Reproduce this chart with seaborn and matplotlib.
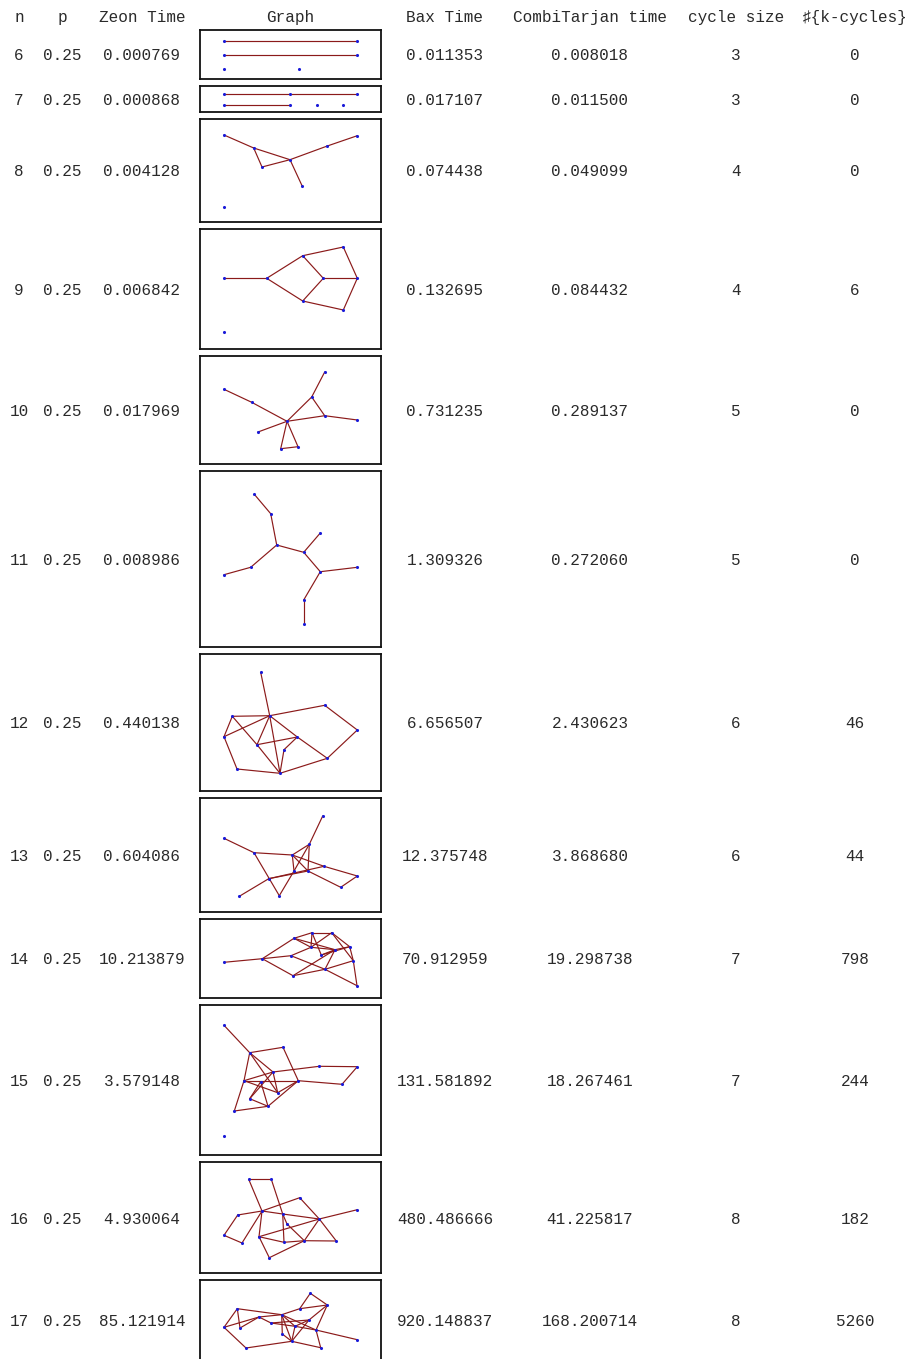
import pandas as pd
import matplotlib
matplotlib.use("Agg")
import matplotlib.pyplot as plt
import seaborn as sns

# table values
n_vals = [6, 7, 8, 9, 10, 11, 12, 13, 14, 15, 16, 17]
p_vals = ["0.25"] * 12
zeon_time = ["0.000769", "0.000868", "0.004128", "0.006842", "0.017969", "0.008986",
             "0.440138", "0.604086", "10.213879", "3.579148", "4.930064", "85.121914"]
bax_time = ["0.011353", "0.017107", "0.074438", "0.132695", "0.731235", "1.309326",
            "6.656507", "12.375748", "70.912959", "131.581892", "480.486666", "920.148837"]
combi_time = ["0.008018", "0.011500", "0.049099", "0.084432", "0.289137", "0.272060",
              "2.430623", "3.868680", "19.298738", "18.267461", "41.225817", "168.200714"]
cycle_size = [3, 3, 4, 4, 5, 5, 6, 6, 7, 7, 8, 8]
k_cycles = [0, 0, 0, 6, 0, 0, 46, 44, 798, 244, 182, 5260]
headers = ["n", "p", "Zeon Time", "Graph", "Bax Time", "CombiTarjan time",
           "cycle size", "\u266f{k-cycles}"]

# graph drawings: node layout (inside each frame) and edges by node letter
nodes_6 = [(24, 11), (157, 11), (24, 25), (157, 25), (24, 39), (99, 39)]
edges_6 = "AB CD"
nodes_7 = [(24, 8), (90, 8), (157, 8), (24, 19), (90, 19), (117, 19), (143, 19)]
edges_7 = "AB BC DE"
nodes_8 = [(24, 16), (53.7, 29), (62, 48), (90, 40.7), (102.3, 67.3), (127.3, 27),
           (157.3, 16.7), (24, 88)]
edges_8 = "AB BC BD CD DE DF FG"
nodes_9 = [(24, 49.3), (66.7, 49.3), (102.7, 26.7), (102.7, 72), (123.3, 49.3),
           (143.3, 18), (157.3, 49.3), (143.3, 81), (24, 103.3)]
edges_9 = "AB BC BD CE DE CF FG EG GH DH"
nodes_10 = [(24, 33.3), (51.7, 46.3), (87, 65.3), (124.7, 16), (111.7, 41),
            (124.7, 59.7), (157.3, 64), (58, 76), (80.7, 92.7), (98, 90.7)]
edges_10 = "AB BC CE ED EF CF FG CH CI CJ IJ"
nodes_11 = [(54.3, 23.3), (70.7, 42.7), (76.7, 74), (50.7, 96.3), (24, 103.7),
            (103.7, 81.3), (120.3, 62), (120.3, 100.7), (157.3, 96.3), (103.7, 129),
            (103.7, 153.3)]
edges_11 = "AB BC CD DE CF FG FH HI HJ JK"
nodes_12 = [(60.7, 18.3), (69.7, 61.7), (32.3, 62.3), (24, 82.7), (57, 90.7),
            (97.3, 83), (84, 95.7), (37, 115), (80, 119.3), (124.7, 51.3),
            (157.3, 76), (127.3, 104.3)]
edges_12 = "AB BC BJ JK KL LI IH HD DC DB CE EI BE BI EF FG GI BF FL"
nodes_13 = [(24, 40.3), (54, 54.7), (122.7, 18), (109.3, 46.3), (92.3, 57), (94, 73),
            (108, 73), (124, 68.3), (157.3, 78), (140.7, 89.3), (68.7, 80.7),
            (39.3, 98.3), (79.3, 97.7)]
edges_13 = "AB BE BM MF KL KG KH DC DE DF DG EF EG EH GJ JI IH"
nodes_14 = [(62.3, 39.7), (94, 19.3), (91, 36.7), (93, 56.7), (112, 13.7), (111, 28.3),
            (131.7, 13.7), (121.3, 36), (135, 30.7), (149.7, 27.7), (153.3, 41.7),
            (125, 50.3), (157, 66.7), (24, 43.3)]
edges_14 = "NA AB AC AD BE EG BF BI CF CL DL DI EF EH FG GJ GK FI HI HJ IJ IL JK KL KM LM"
nodes_15 = [(24, 20.3), (49.7, 47.7), (83, 42.3), (73, 67), (44, 75.7), (60.7, 76.7),
            (98.3, 75.7), (119.3, 61.3), (157.3, 61.7), (142, 79.3), (77.7, 87.7),
            (49.7, 93.7), (68, 101.3), (34.3, 106), (24, 130.7)]
edges_15 = "AB BC CG BE BD BK ED EG EK EN DH HI IJ JG GM GK DK DL FL FM NM LM"
nodes_16 = [(48.7, 17.3), (71.3, 17.3), (99.7, 35.7), (62, 49), (37.7, 53), (82.7, 52),
            (87, 62), (119.3, 57), (157.3, 47.7), (24, 73.3), (59, 74.7), (42, 81),
            (84, 80.3), (104.3, 78.7), (136.3, 79), (69.3, 95.7)]
edges_16 = "AB AD BF DC CH DE DF DK DL EJ JL KP PN KM MN NO HN HO HI FH FM FG GN KH"
nodes_17 = [(37.3, 28.7), (24, 47.3), (40, 48), (59, 37), (71, 43), (81.7, 34.7),
            (99.7, 28.7), (110.3, 13.3), (127.3, 25), (109, 40), (95, 46.3), (116, 50),
            (82.3, 54), (91.7, 61.3), (46, 68), (120.7, 67.7), (157.3, 59.7)]
edges_17 = "AB AC AF BD BO CD DF DE EK FG FM FK FL FN GH GI HI IJ IL JN JK KL KN LP LQ MN NP ON EJ"

graphs = [(nodes_6, edges_6), (nodes_7, edges_7), (nodes_8, edges_8), (nodes_9, edges_9),
          (nodes_10, edges_10), (nodes_11, edges_11), (nodes_12, edges_12),
          (nodes_13, edges_13), (nodes_14, edges_14), (nodes_15, edges_15),
          (nodes_16, edges_16), (nodes_17, edges_17)]

# layout (pixels)
W, H = 912, 1359
col_x = [19, 62, 142, 290, 445, 590, 736, 855]
box_left, box_w = 200, 181
box_h = [49, 26, 103, 120, 108, 176, 137, 114, 79, 150, 111, 81]
first_top, gap = 30, 7

sns.set_theme(style="white")
plt.rcParams['font.family'] = ['Liberation Mono', 'DejaVu Sans Mono', 'DejaVu Sans']

fig = plt.figure(figsize=(W / 100, H / 100), dpi=100)
ax = fig.add_axes([0, 0, 1, 1])
ax.set_xlim(0, W)
ax.set_ylim(H, 0)
ax.axis('off')

fs = 11.5
txt = dict(ha='center', va='center_baseline', fontsize=fs, color='#2a2a2a')
for x, h in zip(col_x, headers):
    ax.text(x, 16, h, **txt)

top = first_top
for i, n in enumerate(n_vals):
    h = box_h[i]
    yc = top + h / 2
    row = [str(n), p_vals[i], zeon_time[i], None, bax_time[i], combi_time[i],
           str(cycle_size[i]), str(k_cycles[i])]
    for x, s in zip(col_x, row):
        if s is not None:
            ax.text(x, yc, s, **txt)

    # graph frame
    gax = fig.add_axes([box_left / W, 1 - (top + h) / H, box_w / W, h / H])
    nodes, edges = graphs[i]
    rows = []
    for k, pair in enumerate(edges.split()):
        for c in pair:
            px, py = nodes[ord(c) - 65]
            rows.append({'x': px, 'y': py, 'edge': k})
    edf = pd.DataFrame(rows)
    sns.lineplot(data=edf, x='x', y='y', units='edge', estimator=None, sort=False,
                 color='#8b1a1a', linewidth=0.85, ax=gax)
    ndf = pd.DataFrame(nodes, columns=['x', 'y'])
    sns.scatterplot(data=ndf, x='x', y='y', color='#1a1ad8', s=5, marker='o',
                    linewidth=0, ax=gax, zorder=3)
    gax.set_xlim(0, box_w)
    gax.set_ylim(h, 0)
    gax.set_xticks([])
    gax.set_yticks([])
    gax.set_xlabel('')
    gax.set_ylabel('')
    for sp in gax.spines.values():
        sp.set_visible(True)
        sp.set_color('#111111')
        sp.set_linewidth(1.3)
    top += h + gap

fig.savefig('out.png', dpi=100)
